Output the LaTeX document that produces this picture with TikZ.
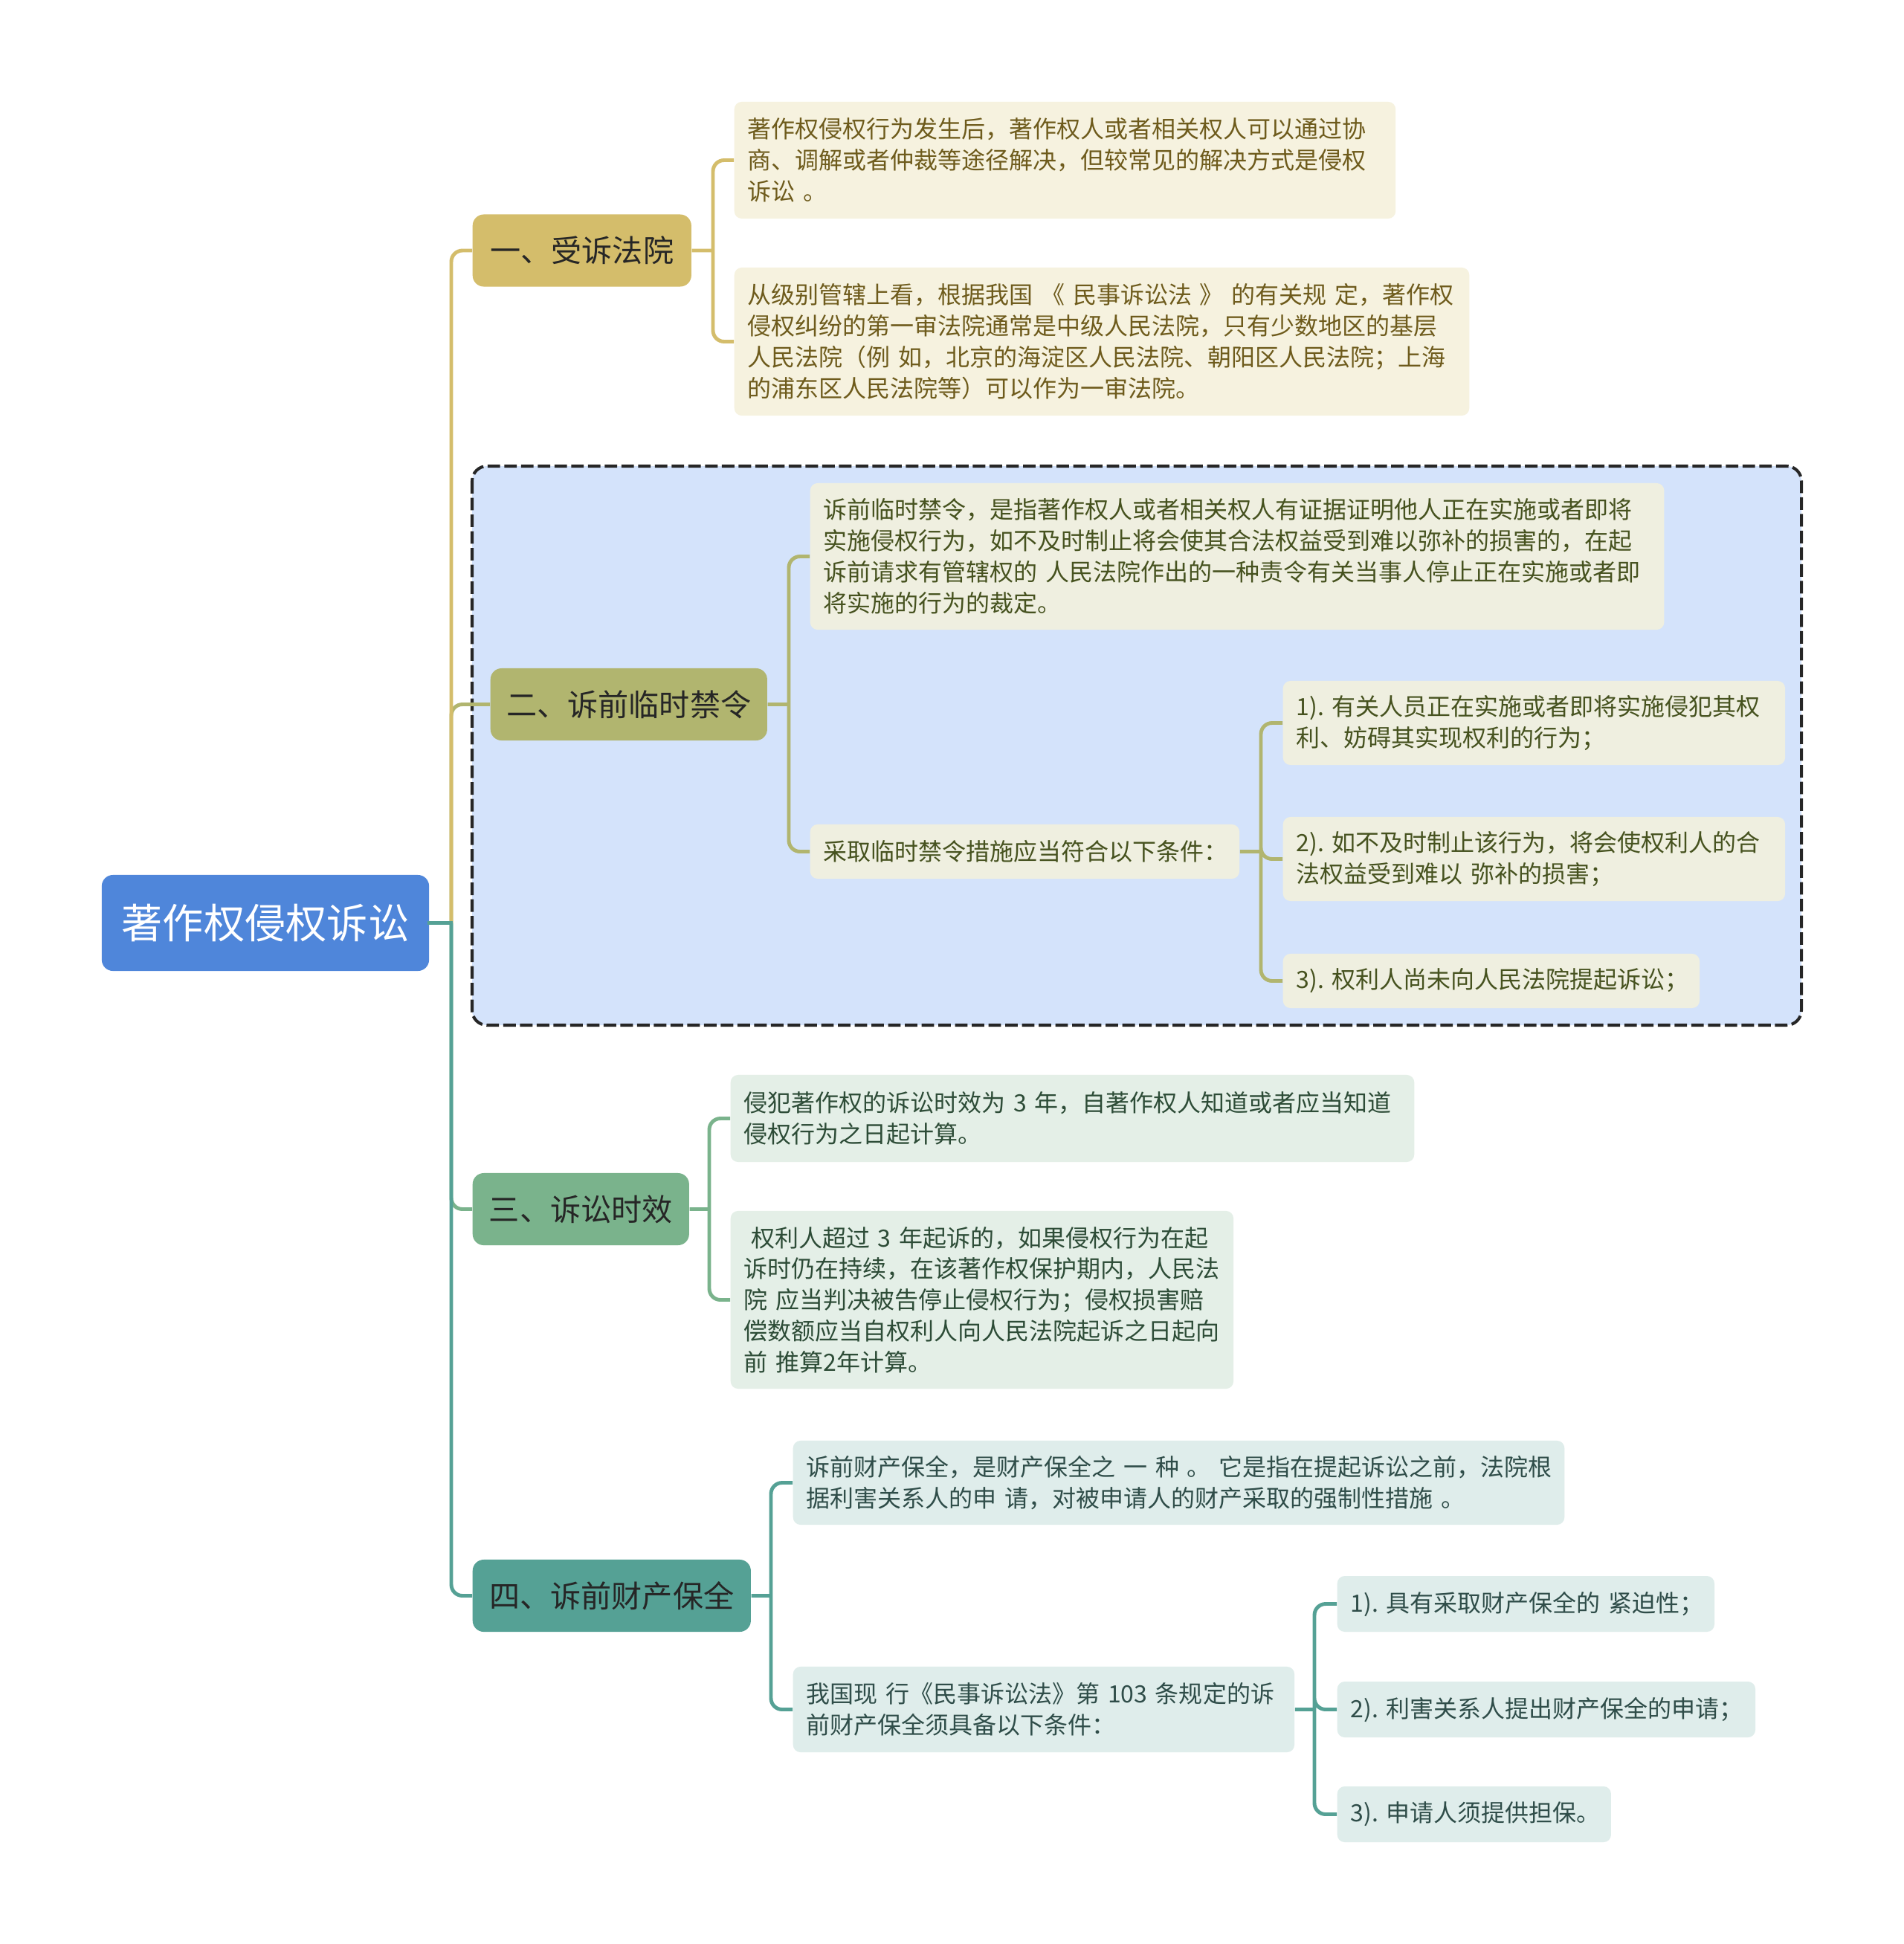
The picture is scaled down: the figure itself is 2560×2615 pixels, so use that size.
\documentclass[tikz,border=0pt]{standalone}
\usepackage{fontspec}
\setmainfont{Noto Sans CJK SC}
\usetikzlibrary{positioning,calc}
\definecolor{rootblue}{HTML}{4F86DA}
\definecolor{goldmain}{HTML}{D4BD6B}
\definecolor{olivemain}{HTML}{B1B56F}
\definecolor{greenmain}{HTML}{7AB38C}
\definecolor{tealmain}{HTML}{55A195}
\definecolor{goldleaf}{HTML}{F6F2DF}
\definecolor{oliveleaf}{HTML}{EFEFE0}
\definecolor{greenleaf}{HTML}{E4EFE7}
\definecolor{tealleaf}{HTML}{DFEDEB}
\definecolor{goldtext}{HTML}{6E5B1C}
\definecolor{olivetext}{HTML}{46521F}
\definecolor{greentext}{HTML}{2D4C37}
\definecolor{tealtext}{HTML}{2F4D49}
\definecolor{zoneblue}{HTML}{D4E3FB}

\begin{document}
\begin{tikzpicture}[
  x=0.01cm, y=-0.01cm,
  every node/.style={font=\fontsize{9.1}{11.9}\selectfont},
  rootbox/.style={fill=rootblue, text=white, rounded corners=0.15cm, align=center,
    minimum width=4.40cm, minimum height=1.29cm, font=\fontsize{15.7}{18}\selectfont},
  branchbox/.style={rounded corners=0.15cm, anchor=west, align=center, inner sep=0pt,
    minimum height=0.97cm, font=\fontsize{11.7}{14}\selectfont},
  leaf/.style={rounded corners=0.1cm, anchor=west, align=left, inner xsep=0.18cm, inner ysep=0pt},
  goldleafbox/.style={leaf, fill=goldleaf, text=goldtext},
  oliveleafbox/.style={leaf, fill=oliveleaf, text=olivetext},
  greenleafbox/.style={leaf, fill=greenleaf, text=greentext},
  tealleafbox/.style={leaf, fill=tealleaf, text=tealtext},
  link/.style={line width=1.4pt, rounded corners=0.15cm}
]
\useasboundingbox[fill=white] (0,0) rectangle (2560,2615);
\draw[fill=zoneblue, draw=black!85, dash pattern=on 4.8pt off 1.6pt, line width=1.15pt, rounded corners=0.2cm]
  (635,627) rectangle (2423,1379);

\node[rootbox] (root) at (357,1241.5) {著作权侵权诉讼};

\node[branchbox, fill=goldmain, text=black!85, minimum width=2.94cm] (b1) at (635,337) {一、受诉法院};
\node[goldleafbox, text width=8.53cm, minimum height=1.57cm] (b1c1) at (987,215.5)
  {著作权侵权行为发生后，著作权人或者相关权人可以通过协\\商、调解或者仲裁等途径解决，但较常见的解决方式是侵权\\诉讼~。};
\node[goldleafbox, text width=9.52cm, minimum height=1.99cm] (b1c2) at (987,459.5)
  {从级别管辖上看，根据我国~《~民事诉讼法~》~的有关规~定，著作权\\侵权纠纷的第一审法院通常是中级人民法院，只有少数地区的基层\\人民法院（例~如，北京的海淀区人民法院、朝阳区人民法院；上海\\的浦东区人民法院等）可以作为一审法院。};

\node[branchbox, fill=olivemain, text=black!85, minimum width=3.72cm] (b2) at (659,947.5) {二、诉前临时禁令};
\node[oliveleafbox, text width=11.12cm, minimum height=1.97cm] (b2c1) at (1089,748.5)
  {诉前临时禁令，是指著作权人或者相关权人有证据证明他人正在实施或者即将\\实施侵权行为，如不及时制止将会使其合法权益受到难以弥补的损害的，在起\\诉前请求有管辖权的~人民法院作出的一种责令有关当事人停止正在实施或者即\\将实施的行为的裁定。};
\node[oliveleafbox, text width=5.41cm, minimum height=0.73cm] (b2c2) at (1089,1145.5)
  {采取临时禁令措施应当符合以下条件：};
\node[oliveleafbox, text width=6.39cm, minimum height=1.13cm] (b2g1) at (1725,972.5)
  {1).~有关人员正在实施或者即将实施侵犯其权\\利、妨碍其实现权利的行为；};
\node[oliveleafbox, text width=6.39cm, minimum height=1.13cm] (b2g2) at (1725,1155.5)
  {2).~如不及时制止该行为，将会使权利人的合\\法权益受到难以~弥补的损害；};
\node[oliveleafbox, text width=5.24cm, minimum height=0.73cm] (b2g3) at (1725,1319.5)
  {3).~权利人尚未向人民法院提起诉讼；};

\node[branchbox, fill=greenmain, text=black!85, minimum width=2.91cm] (b3) at (635,1626.5) {三、诉讼时效};
\node[greenleafbox, text width=8.83cm, minimum height=1.17cm] (b3c1) at (982,1504.5)
  {侵犯著作权的诉讼时效为~3~年，自著作权人知道或者应当知道\\侵权行为之日起计算。};
\node[greenleafbox, text width=6.40cm, minimum height=2.39cm] (b3c2) at (982,1748.5)
  {\hspace*{0.3em}权利人超过~3~年起诉的，如果侵权行为在起\\诉时仍在持续，在该著作权保护期内，人民法\\院~应当判决被告停止侵权行为；侵权损害赔\\偿数额应当自权利人向人民法院起诉之日起向\\前~推算2年计算。};

\node[branchbox, fill=tealmain, text=black!85, minimum width=3.74cm] (b4) at (635,2146.5) {四、诉前财产保全};
\node[tealleafbox, text width=10.01cm, minimum height=1.13cm] (b4c1) at (1066,1994.5)
  {诉前财产保全，是财产保全之~一~种~。~它是指在提起诉讼之前，法院根\\据利害关系人的申~请，对被申请人的财产采取的强制性措施~。};
\node[tealleafbox, text width=6.38cm, minimum height=1.15cm] (b4c2) at (1066,2299.5)
  {我国现~行《民事诉讼法》第~103~条规定的诉\\前财产保全须具备以下条件：};
\node[tealleafbox, text width=4.71cm, minimum height=0.75cm] (b4g1) at (1798,2157.5)
  {1).~具有采取财产保全的~紧迫性；};
\node[tealleafbox, text width=5.26cm, minimum height=0.75cm] (b4g2) at (1798,2299.5)
  {2).~利害关系人提出财产保全的申请；};
\node[tealleafbox, text width=3.32cm, minimum height=0.75cm] (b4g3) at (1798,2440.5)
  {3).~申请人须提供担保。};

\coordinate (rj) at (607,1241.5);
\coordinate (j1) at (959,337);
\coordinate (j2) at (1061,947.5);
\coordinate (j2c) at (1696,1145.5);
\coordinate (j3) at (954,1626.5);
\coordinate (j4) at (1037,2146.5);
\coordinate (j4c) at (1768,2299.5);

\draw[link, olivemain] (rj) |- (b2.west);
\draw[link, goldmain] (rj) |- (b1.west);
\draw[link, greenmain] (rj) |- (b3.west);
\draw[link, tealmain] (rj) |- (b4.west);
\draw[link, tealmain, line cap=rect] (root.east) -- (rj);

\draw[link, goldmain] (b1.east) -- (j1) (j1) |- (b1c1.west) (j1) |- (b1c2.west);
\draw[link, olivemain] (b2.east) -- (j2) (j2) |- (b2c1.west) (j2) |- (b2c2.west);
\draw[link, olivemain] (b2c2.east) -- (j2c) (j2c) |- (b2g1.west) (j2c) |- (b2g2.west) (j2c) |- (b2g3.west);
\draw[link, greenmain] (b3.east) -- (j3) (j3) |- (b3c1.west) (j3) |- (b3c2.west);
\draw[link, tealmain] (b4.east) -- (j4) (j4) |- (b4c1.west) (j4) |- (b4c2.west);
\draw[link, tealmain] (b4c2.east) -- (j4c) (j4c) |- (b4g1.west) (j4c) |- (b4g2.west) (j4c) |- (b4g3.west);
\end{tikzpicture}
\end{document}
